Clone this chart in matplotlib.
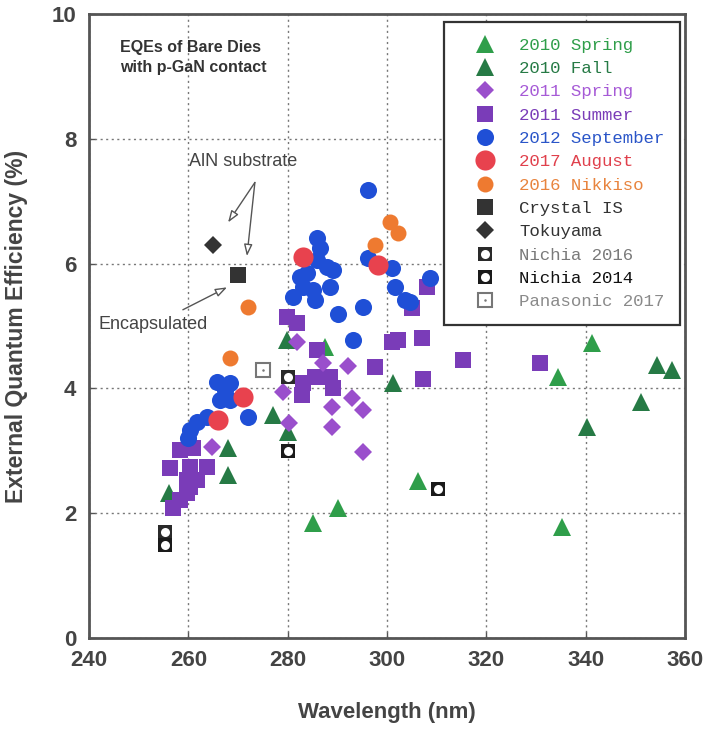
import matplotlib
matplotlib.use("Agg")
import matplotlib.pyplot as plt
from matplotlib.lines import Line2D

# ---------------- data ----------------
spring2010_x = [341.3, 334.4, 335.2, 306.2, 290.1, 285.1, 287.5]
spring2010_y = [4.72, 4.18, 1.78, 2.52, 2.08, 1.84, 4.66]
fall2010_x = [354.3, 357.4, 351.1, 340.3, 301.2, 279.9, 277.0, 280.0, 268.0, 268.0, 256.1]
fall2010_y = [4.37, 4.30, 3.78, 3.38, 4.09, 4.78, 3.57, 3.30, 3.04, 2.61, 2.32]
spring2011_x = [281.9, 287.1, 292.1, 279.1, 293.0, 288.9, 295.2, 280.3, 288.9, 295.2, 264.8]
spring2011_y = [4.74, 4.40, 4.36, 3.94, 3.85, 3.70, 3.65, 3.45, 3.38, 2.98, 3.06]
summer2011_x = [279.9, 281.9, 285.9, 297.6, 301.0, 302.2, 307.0, 307.2, 308.0, 305.0, 315.3, 330.8,
                283.1, 282.9, 285.5, 289.1, 288.5,
                256.9, 258.3, 259.7, 256.3, 258.3, 261.0, 260.3, 263.8, 261.7, 259.7, 260.3]
summer2011_y = [5.14, 5.05, 4.62, 4.35, 4.74, 4.78, 4.81, 4.15, 5.62, 5.29, 4.45, 4.40,
                4.09, 3.90, 4.18, 4.00, 4.18,
                2.08, 2.21, 2.32, 2.72, 3.01, 3.04, 2.74, 2.74, 2.53, 2.53, 2.42]
sept2012_x = [296.2, 285.9, 286.5, 283.9, 287.9, 289.1, 285.9, 282.5, 288.5, 285.1, 283.1, 285.5,
              281.1, 290.1, 295.2, 293.2, 296.2, 301.0, 301.6, 303.6, 304.6, 308.7,
              268.4, 265.8, 267.4, 268.4, 266.4, 272.0, 263.8, 261.7, 260.3, 259.9]
sept2012_y = [7.18, 6.41, 6.25, 5.85, 5.95, 5.90, 6.06, 5.79, 5.62, 5.58, 5.62, 5.42,
              5.46, 5.20, 5.30, 4.78, 6.09, 5.93, 5.62, 5.42, 5.38, 5.77,
              4.09, 4.10, 3.97, 3.81, 3.81, 3.54, 3.54, 3.46, 3.33, 3.20]
aug2017_x = [283.1, 298.2, 271.0, 266.0]
aug2017_y = [6.11, 5.98, 3.86, 3.49]
nikkiso_x = [300.6, 302.2, 297.6, 272.0, 268.4]
nikkiso_y = [6.67, 6.49, 6.30, 5.30, 4.49]
crystal_x = [270.0]
crystal_y = [5.82]
tokuyama_x = [265.0]
tokuyama_y = [6.30]
nichia2016_x = [255.3, 280.0]
nichia2016_y = [1.70, 4.18]
nichia2014_x = [255.3, 280.0, 310.3]
nichia2014_y = [1.49, 3.00, 2.39]
panasonic_x = [275.0]
panasonic_y = [4.30]

xticks = [240, 260, 280, 300, 320, 340, 360]
yticks = [0, 2, 4, 6, 8, 10]

# ---------------- figure ----------------
plt.rcParams['font.family'] = ['Liberation Sans', 'DejaVu Sans']
fig = plt.figure(figsize=(7.09, 7.33), dpi=100)
ax = fig.add_axes([89/709, 1-638/733, (685-89)/709, (638-14)/733])

ax.set_xlim(240, 360)
ax.set_ylim(0, 10)

c_spring10 = '#2f9e4a'
c_fall10 = '#267a45'
c_spring11 = '#9a4fcc'
c_summer11 = '#7a3cb8'
c_sept12 = '#1f4fd6'
c_aug17 = '#e8424e'
c_nikkiso = '#ee7a30'
c_dark = '#333333'

def pts(x, y, marker, color, ms, z, **kw):
    ax.plot(x, y, linestyle='none', marker=marker, color=color, markersize=ms,
            markeredgewidth=0, zorder=z, **kw)

pts(spring2010_x, spring2010_y, '^', c_spring10, 12.5, 3)
pts(fall2010_x, fall2010_y, '^', c_fall10, 12.5, 3)
pts(summer2011_x, summer2011_y, 's', c_summer11, 11, 4)
pts(spring2011_x, spring2011_y, 'D', c_spring11, 9.0, 4)
pts(sept2012_x, sept2012_y, 'o', c_sept12, 12.3, 5)
pts(nikkiso_x, nikkiso_y, 'o', c_nikkiso, 11.5, 6)
pts(aug2017_x, aug2017_y, 'o', c_aug17, 14.5, 7)
pts(crystal_x, crystal_y, 's', c_dark, 11, 7)
pts(tokuyama_x, tokuyama_y, 'D', c_dark, 9.2, 7)

# Nichia markers: dark square with white circle inside
ax.plot(nichia2016_x, nichia2016_y, linestyle='none', marker='s', color='#2a2a2a',
        markersize=10.5, markeredgewidth=0, zorder=8)
ax.plot(nichia2016_x, nichia2016_y, linestyle='none', marker='o', color='white',
        markersize=6.5, markeredgewidth=0, zorder=9)
ax.plot(nichia2014_x, nichia2014_y, linestyle='none', marker='s', color='#1a1a1a',
        markersize=10.5, markeredgewidth=0, zorder=8)
ax.plot(nichia2014_x, nichia2014_y, linestyle='none', marker='o', color='white',
        markersize=6.5, markeredgewidth=0, zorder=9)
# Panasonic: open square with centre dot
ax.plot(panasonic_x, panasonic_y, linestyle='none', marker='s', markerfacecolor='white',
        markeredgecolor='#777777', markersize=10, markeredgewidth=1.5, zorder=8)
ax.plot(panasonic_x, panasonic_y, linestyle='none', marker='o', color='#777777',
        markersize=1.8, markeredgewidth=0, zorder=9)

# ---------------- axes styling ----------------
ax.set_xticks(xticks)
ax.set_yticks(yticks)
for s in ax.spines.values():
    s.set_linewidth(2.0)
    s.set_color('#555555')
ax.tick_params(direction='in', length=4, width=1, colors='#555555', pad=9,
               labelsize=16, labelcolor='#444444')
for lab in ax.get_xticklabels() + ax.get_yticklabels():
    lab.set_fontweight('bold')
ax.grid(True, linestyle=(0, (1.5, 2.5)), color='#777777', linewidth=1.0)
ax.set_axisbelow(True)

ax.set_xlabel('Wavelength (nm)', fontsize=16, fontweight='bold', color='#444444', labelpad=22)
ax.set_ylabel('External Quantum Efficiency (%)', fontsize=16.5, fontweight='bold',
              color='#444444', labelpad=17)

# ---------------- annotations ----------------
ax.text(246.3, 9.3, 'EQEs of Bare Dies\nwith p-GaN contact', fontsize=11.5,
        fontweight='bold', color='#333333', va='center', ha='left', linespacing=1.45)
ax.text(260.2, 7.63, 'AlN substrate', fontsize=13, color='#444444', va='center', ha='left')
ax.text(242.0, 5.02, 'Encapsulated', fontsize=13, color='#444444', va='center', ha='left')

arrow_kw = dict(arrowstyle='-|>,head_length=0.7,head_width=0.25', fc='white',
                ec='#555555', lw=1.0, shrinkA=0, shrinkB=0)
ax.annotate('', xy=(268.0, 6.66), xytext=(273.4, 7.30), arrowprops=arrow_kw, zorder=2)
ax.annotate('', xy=(271.8, 6.12), xytext=(273.4, 7.30), arrowprops=arrow_kw, zorder=2)
ax.annotate('', xy=(267.8, 5.62), xytext=(258.9, 5.26), arrowprops=arrow_kw, zorder=2)

# ---------------- legend ----------------
def h(marker, color, ms, **kw):
    return Line2D([], [], linestyle='none', marker=marker, color=color, markersize=ms,
                  markeredgewidth=0, **kw)

handles = [
    h('^', c_spring10, 12.5),
    h('^', c_fall10, 12.5),
    h('D', c_spring11, 9.0),
    h('s', c_summer11, 11),
    h('o', c_sept12, 12.3),
    h('o', c_aug17, 14.5),
    h('o', c_nikkiso, 11.5),
    h('s', c_dark, 11),
    h('D', c_dark, 9.2),
    (h('s', '#2a2a2a', 10.5), h('o', 'white', 6.5)),
    (h('s', '#1a1a1a', 10.5), h('o', 'white', 6.5)),
    (Line2D([], [], linestyle='none', marker='s', markerfacecolor='white',
            markeredgecolor='#777777', markersize=10, markeredgewidth=1.5),
     h('o', '#777777', 1.8)),
]
labels = ['2010 Spring', '2010 Fall', '2011 Spring', '2011 Summer', '2012 September',
          '2017 August', '2016 Nikkiso', 'Crystal IS', 'Tokuyama', 'Nichia 2016',
          'Nichia 2014', 'Panasonic 2017']
text_colors = [c_spring10, c_fall10, '#a65ad6', c_summer11, '#2a55c8', '#e0404c',
               '#e8843e', '#333333', '#333333', '#7a7a7a', '#111111', '#8a8a8a']

leg = ax.legend(handles, labels, loc='upper right',
                bbox_to_anchor=((680-89)/596, (638-22)/624), borderaxespad=0,
                prop={'family': ['Liberation Mono', 'DejaVu Sans Mono'], 'size': 12.5},
                frameon=True, fancybox=False, edgecolor='#333333', framealpha=1,
                borderpad=0.9, handlelength=3.0, handletextpad=0.45, labelspacing=0.47)
leg.get_frame().set_linewidth(1.6)
for t, c in zip(leg.get_texts(), text_colors):
    t.set_color(c)
leg.set_zorder(10)

fig.savefig('out.png', dpi=100)
